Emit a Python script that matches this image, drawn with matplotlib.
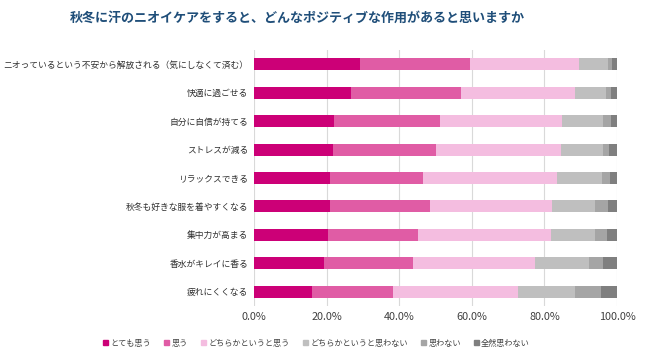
import matplotlib.pyplot as plt
import numpy as np
from matplotlib.patches import Patch

plt.rcParams['font.family'] = ['Noto Sans CJK JP', 'DejaVu Sans']

# data (percent), top row first
items = [
    'ニオっているという不安から解放される（気にしなくて済む）',
    '快適に過ごせる',
    '自分に自信が持てる',
    'ストレスが減る',
    'リラックスできる',
    '秋冬も好きな服を着やすくなる',
    '集中力が高まる',
    '香水がキレイに香る',
    '疲れにくくなる',
]
levels = ['とても思う', '思う', 'どちらかというと思う',
          'どちらかというと思わない', '思わない', '全然思わない']
very = [29.3, 26.6, 21.9, 21.7, 20.8, 21.0, 20.4, 19.3, 16.1]
agree = [30.3, 30.3, 29.3, 28.5, 25.7, 27.6, 24.8, 24.4, 22.2]
somewhat = [30.0, 31.4, 33.5, 34.3, 36.9, 33.4, 36.5, 33.8, 34.5]
somewhat_not = [7.9, 8.6, 11.5, 11.7, 12.5, 11.9, 12.2, 14.9, 15.5]
not_agree = [1.0, 1.4, 2.1, 1.7, 2.2, 3.5, 3.2, 3.7, 7.2]
never = [1.5, 1.7, 1.7, 2.1, 1.9, 2.6, 2.9, 3.9, 4.5]
series = [very, agree, somewhat, somewhat_not, not_agree, never]
colors = ['#CC0077', '#E05CA5', '#F4BDE0', '#BFBFBF', '#A5A5A5', '#7F7F7F']

fig = plt.figure(figsize=(6.5, 3.6), dpi=100)
ax = fig.add_axes([0.3908, 0.15, 0.5585, 0.711])

y = np.arange(len(items))
left = np.zeros(len(items))
for vals, c, lab in zip(series, colors, levels):
    vals = np.array(vals)
    ax.barh(y, vals, left=left, height=0.42, color=c, label=lab, zorder=3)
    left += vals

ax.set_ylim(len(items) - 0.5, -0.5)
ax.set_xlim(0, 100)
ax.set_yticks(y)
ax.set_yticklabels(items, fontsize=6.3, color='#303030')
ax.set_xticks(np.arange(0, 101, 20))
ax.set_xticklabels([f'{v:.1f}%' for v in range(0, 101, 20)], fontsize=7.8, color='#404040')
ax.tick_params(length=0, pad=4)
ax.grid(axis='x', color='#D9D9D9', linewidth=0.8, zorder=0)
for s in ax.spines.values():
    s.set_visible(False)

fig.text(0.457, 0.95, '秋冬に汗のニオイケアをすると、どんなポジティブな作用があると思いますか',
         ha='center', va='center', fontsize=9.4, fontweight='bold', color='#1F4E79')

handles = [Patch(color=c) for c in colors]
fig.legend(handles, levels, loc='center', bbox_to_anchor=(0.487, 0.047), ncol=6,
           frameon=False, fontsize=5.9, handlelength=0.6, handleheight=0.6,
           handletextpad=0.3, columnspacing=1.6, labelcolor='#404040')

plt.savefig('out.png', dpi=100)
